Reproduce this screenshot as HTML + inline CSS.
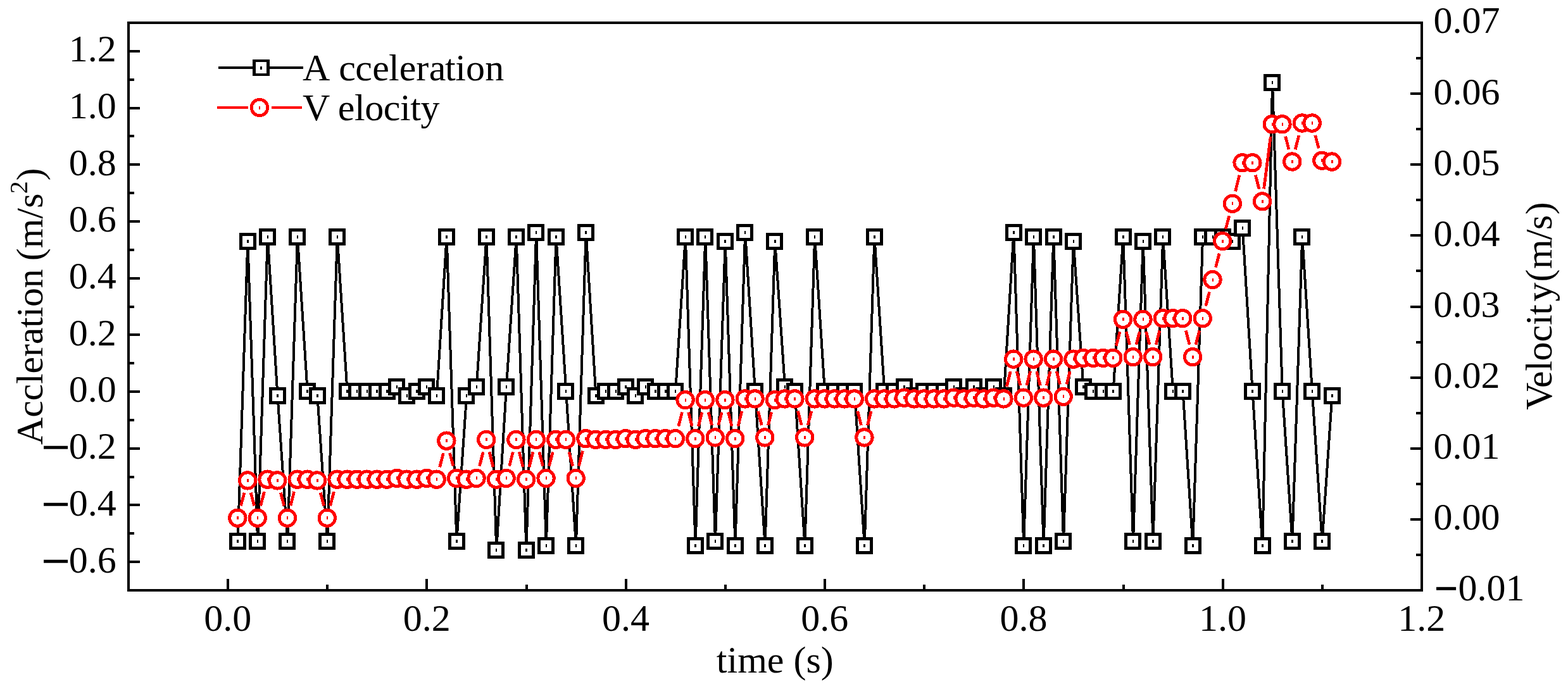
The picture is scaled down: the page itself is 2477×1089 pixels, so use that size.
<!DOCTYPE html>
<html lang="en"><head><meta charset="utf-8"><title>Acceleration and Velocity vs time</title>
<style>html,body{margin:0;padding:0;background:#fff;}svg{display:block;}text{font-family:"Liberation Serif","Times New Roman",serif;font-size:60px;fill:#000;}</style></head><body>
<svg width="2477" height="1089" viewBox="0 0 2477 1089">
<rect x="0" y="0" width="2477" height="1089" fill="#fff"/>
<g shape-rendering="crispEdges">
<polyline fill="none" stroke="#000" stroke-width="4" stroke-linejoin="bevel" points="375.64,855.63 391.35,381.27 407.07,855.63 422.79,374.29 438.5,625.43 454.22,855.63 469.93,374.29 485.65,618.45 501.36,625.43 517.08,855.63 532.79,374.29 548.51,618.45 564.22,618.45 579.94,618.45 595.65,618.45 611.37,618.45 627.09,611.47 642.8,625.43 658.52,618.45 674.23,611.47 689.95,625.43 705.66,374.29 721.38,855.63 737.09,625.43 752.81,611.47 768.52,374.29 784.24,869.59 799.95,611.47 815.67,374.29 831.39,869.59 847.1,367.31 862.82,862.61 878.53,374.29 894.25,618.45 909.96,862.61 925.68,367.31 941.39,625.43 957.11,618.45 972.82,618.45 988.54,611.47 1004.25,625.43 1019.97,611.47 1035.69,618.45 1051.4,618.45 1067.12,618.45 1082.83,374.29 1098.55,862.61 1114.26,374.29 1129.98,855.63 1145.69,381.27 1161.41,862.61 1177.12,367.31 1192.84,618.45 1208.55,862.61 1224.27,381.27 1239.99,611.47 1255.7,618.45 1271.42,862.61 1287.13,374.29 1302.85,618.45 1318.56,618.45 1334.28,618.45 1349.99,618.45 1365.71,862.61 1381.42,374.29 1397.14,618.45 1412.85,618.45 1428.57,611.47 1444.29,625.43 1460,618.45 1475.72,618.45 1491.43,618.45 1507.15,611.47 1522.86,625.43 1538.58,611.47 1554.29,625.43 1570.01,611.47 1585.72,625.43 1601.44,367.31 1617.15,862.61 1632.87,374.29 1648.59,862.61 1664.3,374.29 1680.02,855.63 1695.73,381.27 1711.45,611.47 1727.16,618.45 1742.88,618.45 1758.59,618.45 1774.31,374.29 1790.02,855.63 1805.74,381.27 1821.45,855.63 1837.17,374.29 1852.89,618.45 1868.6,618.45 1884.32,862.61 1900.03,374.29 1915.75,374.29 1931.46,374.29 1947.18,381.27 1962.89,360.34 1978.61,618.45 1994.32,862.61 2010.04,130.13 2025.75,618.45 2041.47,855.63 2057.19,374.29 2072.9,618.45 2088.62,855.63 2104.33,625.43"/>
<path d="M362 842h27v27h-27z" fill="#000"/><path d="M367 847h17v17h-17z" fill="#fff"/><path d="M374.42 853h2.45v5h-2.45z" fill="#000"/>
<path d="M378 368h27v27h-27z" fill="#000"/><path d="M383 373h17v17h-17z" fill="#fff"/><path d="M390.13 379h2.45v5h-2.45z" fill="#000"/>
<path d="M393 842h27v27h-27z" fill="#000"/><path d="M398 847h17v17h-17z" fill="#fff"/><path d="M405.85 853h2.45v5h-2.45z" fill="#000"/>
<path d="M409 361h27v27h-27z" fill="#000"/><path d="M414 366h17v17h-17z" fill="#fff"/><path d="M421.57 372h2.45v5h-2.45z" fill="#000"/>
<path d="M425 612h27v27h-27z" fill="#000"/><path d="M430 617h17v17h-17z" fill="#fff"/><path d="M437.28 623h2.45v5h-2.45z" fill="#000"/>
<path d="M440 842h27v27h-27z" fill="#000"/><path d="M445 847h17v17h-17z" fill="#fff"/><path d="M453 853h2.45v5h-2.45z" fill="#000"/>
<path d="M456 361h27v27h-27z" fill="#000"/><path d="M461 366h17v17h-17z" fill="#fff"/><path d="M468.71 372h2.45v5h-2.45z" fill="#000"/>
<path d="M472 605h27v27h-27z" fill="#000"/><path d="M477 610h17v17h-17z" fill="#fff"/><path d="M484.43 616h2.45v5h-2.45z" fill="#000"/>
<path d="M488 612h27v27h-27z" fill="#000"/><path d="M493 617h17v17h-17z" fill="#fff"/><path d="M500.14 623h2.45v5h-2.45z" fill="#000"/>
<path d="M503 842h27v27h-27z" fill="#000"/><path d="M508 847h17v17h-17z" fill="#fff"/><path d="M515.86 853h2.45v5h-2.45z" fill="#000"/>
<path d="M519 361h27v27h-27z" fill="#000"/><path d="M524 366h17v17h-17z" fill="#fff"/><path d="M531.57 372h2.45v5h-2.45z" fill="#000"/>
<path d="M535 605h27v27h-27z" fill="#000"/><path d="M540 610h17v17h-17z" fill="#fff"/><path d="M547.29 616h2.45v5h-2.45z" fill="#000"/>
<path d="M550 605h27v27h-27z" fill="#000"/><path d="M555 610h17v17h-17z" fill="#fff"/><path d="M563 616h2.45v5h-2.45z" fill="#000"/>
<path d="M566 605h27v27h-27z" fill="#000"/><path d="M571 610h17v17h-17z" fill="#fff"/><path d="M578.72 616h2.45v5h-2.45z" fill="#000"/>
<path d="M582 605h27v27h-27z" fill="#000"/><path d="M587 610h17v17h-17z" fill="#fff"/><path d="M594.43 616h2.45v5h-2.45z" fill="#000"/>
<path d="M598 605h27v27h-27z" fill="#000"/><path d="M603 610h17v17h-17z" fill="#fff"/><path d="M610.15 616h2.45v5h-2.45z" fill="#000"/>
<path d="M613 598h27v27h-27z" fill="#000"/><path d="M618 603h17v17h-17z" fill="#fff"/><path d="M625.87 609h2.45v5h-2.45z" fill="#000"/>
<path d="M629 612h27v27h-27z" fill="#000"/><path d="M634 617h17v17h-17z" fill="#fff"/><path d="M641.58 623h2.45v5h-2.45z" fill="#000"/>
<path d="M645 605h27v27h-27z" fill="#000"/><path d="M650 610h17v17h-17z" fill="#fff"/><path d="M657.3 616h2.45v5h-2.45z" fill="#000"/>
<path d="M660 598h27v27h-27z" fill="#000"/><path d="M665 603h17v17h-17z" fill="#fff"/><path d="M673.01 609h2.45v5h-2.45z" fill="#000"/>
<path d="M676 612h27v27h-27z" fill="#000"/><path d="M681 617h17v17h-17z" fill="#fff"/><path d="M688.73 623h2.45v5h-2.45z" fill="#000"/>
<path d="M692 361h27v27h-27z" fill="#000"/><path d="M697 366h17v17h-17z" fill="#fff"/><path d="M704.44 372h2.45v5h-2.45z" fill="#000"/>
<path d="M708 842h27v27h-27z" fill="#000"/><path d="M713 847h17v17h-17z" fill="#fff"/><path d="M720.16 853h2.45v5h-2.45z" fill="#000"/>
<path d="M723 612h27v27h-27z" fill="#000"/><path d="M728 617h17v17h-17z" fill="#fff"/><path d="M735.87 623h2.45v5h-2.45z" fill="#000"/>
<path d="M739 598h27v27h-27z" fill="#000"/><path d="M744 603h17v17h-17z" fill="#fff"/><path d="M751.59 609h2.45v5h-2.45z" fill="#000"/>
<path d="M755 361h27v27h-27z" fill="#000"/><path d="M760 366h17v17h-17z" fill="#fff"/><path d="M767.3 372h2.45v5h-2.45z" fill="#000"/>
<path d="M770 856h27v27h-27z" fill="#000"/><path d="M775 861h17v17h-17z" fill="#fff"/><path d="M783.02 867h2.45v5h-2.45z" fill="#000"/>
<path d="M786 598h27v27h-27z" fill="#000"/><path d="M791 603h17v17h-17z" fill="#fff"/><path d="M798.73 609h2.45v5h-2.45z" fill="#000"/>
<path d="M802 361h27v27h-27z" fill="#000"/><path d="M807 366h17v17h-17z" fill="#fff"/><path d="M814.45 372h2.45v5h-2.45z" fill="#000"/>
<path d="M818 856h27v27h-27z" fill="#000"/><path d="M823 861h17v17h-17z" fill="#fff"/><path d="M830.17 867h2.45v5h-2.45z" fill="#000"/>
<path d="M833 354h27v27h-27z" fill="#000"/><path d="M838 359h17v17h-17z" fill="#fff"/><path d="M845.88 365h2.45v5h-2.45z" fill="#000"/>
<path d="M849 849h27v27h-27z" fill="#000"/><path d="M854 854h17v17h-17z" fill="#fff"/><path d="M861.6 860h2.45v5h-2.45z" fill="#000"/>
<path d="M865 361h27v27h-27z" fill="#000"/><path d="M870 366h17v17h-17z" fill="#fff"/><path d="M877.31 372h2.45v5h-2.45z" fill="#000"/>
<path d="M880 605h27v27h-27z" fill="#000"/><path d="M885 610h17v17h-17z" fill="#fff"/><path d="M893.03 616h2.45v5h-2.45z" fill="#000"/>
<path d="M896 849h27v27h-27z" fill="#000"/><path d="M901 854h17v17h-17z" fill="#fff"/><path d="M908.74 860h2.45v5h-2.45z" fill="#000"/>
<path d="M912 354h27v27h-27z" fill="#000"/><path d="M917 359h17v17h-17z" fill="#fff"/><path d="M924.46 365h2.45v5h-2.45z" fill="#000"/>
<path d="M928 612h27v27h-27z" fill="#000"/><path d="M933 617h17v17h-17z" fill="#fff"/><path d="M940.17 623h2.45v5h-2.45z" fill="#000"/>
<path d="M943 605h27v27h-27z" fill="#000"/><path d="M948 610h17v17h-17z" fill="#fff"/><path d="M955.89 616h2.45v5h-2.45z" fill="#000"/>
<path d="M959 605h27v27h-27z" fill="#000"/><path d="M964 610h17v17h-17z" fill="#fff"/><path d="M971.6 616h2.45v5h-2.45z" fill="#000"/>
<path d="M975 598h27v27h-27z" fill="#000"/><path d="M980 603h17v17h-17z" fill="#fff"/><path d="M987.32 609h2.45v5h-2.45z" fill="#000"/>
<path d="M990 612h27v27h-27z" fill="#000"/><path d="M995 617h17v17h-17z" fill="#fff"/><path d="M1003.03 623h2.45v5h-2.45z" fill="#000"/>
<path d="M1006 598h27v27h-27z" fill="#000"/><path d="M1011 603h17v17h-17z" fill="#fff"/><path d="M1018.75 609h2.45v5h-2.45z" fill="#000"/>
<path d="M1022 605h27v27h-27z" fill="#000"/><path d="M1027 610h17v17h-17z" fill="#fff"/><path d="M1034.47 616h2.45v5h-2.45z" fill="#000"/>
<path d="M1038 605h27v27h-27z" fill="#000"/><path d="M1043 610h17v17h-17z" fill="#fff"/><path d="M1050.18 616h2.45v5h-2.45z" fill="#000"/>
<path d="M1053 605h27v27h-27z" fill="#000"/><path d="M1058 610h17v17h-17z" fill="#fff"/><path d="M1065.9 616h2.45v5h-2.45z" fill="#000"/>
<path d="M1069 361h27v27h-27z" fill="#000"/><path d="M1074 366h17v17h-17z" fill="#fff"/><path d="M1081.61 372h2.45v5h-2.45z" fill="#000"/>
<path d="M1085 849h27v27h-27z" fill="#000"/><path d="M1090 854h17v17h-17z" fill="#fff"/><path d="M1097.33 860h2.45v5h-2.45z" fill="#000"/>
<path d="M1100 361h27v27h-27z" fill="#000"/><path d="M1105 366h17v17h-17z" fill="#fff"/><path d="M1113.04 372h2.45v5h-2.45z" fill="#000"/>
<path d="M1116 842h27v27h-27z" fill="#000"/><path d="M1121 847h17v17h-17z" fill="#fff"/><path d="M1128.76 853h2.45v5h-2.45z" fill="#000"/>
<path d="M1132 368h27v27h-27z" fill="#000"/><path d="M1137 373h17v17h-17z" fill="#fff"/><path d="M1144.47 379h2.45v5h-2.45z" fill="#000"/>
<path d="M1148 849h27v27h-27z" fill="#000"/><path d="M1153 854h17v17h-17z" fill="#fff"/><path d="M1160.19 860h2.45v5h-2.45z" fill="#000"/>
<path d="M1163 354h27v27h-27z" fill="#000"/><path d="M1168 359h17v17h-17z" fill="#fff"/><path d="M1175.9 365h2.45v5h-2.45z" fill="#000"/>
<path d="M1179 605h27v27h-27z" fill="#000"/><path d="M1184 610h17v17h-17z" fill="#fff"/><path d="M1191.62 616h2.45v5h-2.45z" fill="#000"/>
<path d="M1195 849h27v27h-27z" fill="#000"/><path d="M1200 854h17v17h-17z" fill="#fff"/><path d="M1207.33 860h2.45v5h-2.45z" fill="#000"/>
<path d="M1210 368h27v27h-27z" fill="#000"/><path d="M1215 373h17v17h-17z" fill="#fff"/><path d="M1223.05 379h2.45v5h-2.45z" fill="#000"/>
<path d="M1226 598h27v27h-27z" fill="#000"/><path d="M1231 603h17v17h-17z" fill="#fff"/><path d="M1238.77 609h2.45v5h-2.45z" fill="#000"/>
<path d="M1242 605h27v27h-27z" fill="#000"/><path d="M1247 610h17v17h-17z" fill="#fff"/><path d="M1254.48 616h2.45v5h-2.45z" fill="#000"/>
<path d="M1258 849h27v27h-27z" fill="#000"/><path d="M1263 854h17v17h-17z" fill="#fff"/><path d="M1270.2 860h2.45v5h-2.45z" fill="#000"/>
<path d="M1273 361h27v27h-27z" fill="#000"/><path d="M1278 366h17v17h-17z" fill="#fff"/><path d="M1285.91 372h2.45v5h-2.45z" fill="#000"/>
<path d="M1289 605h27v27h-27z" fill="#000"/><path d="M1294 610h17v17h-17z" fill="#fff"/><path d="M1301.63 616h2.45v5h-2.45z" fill="#000"/>
<path d="M1305 605h27v27h-27z" fill="#000"/><path d="M1310 610h17v17h-17z" fill="#fff"/><path d="M1317.34 616h2.45v5h-2.45z" fill="#000"/>
<path d="M1321 605h27v27h-27z" fill="#000"/><path d="M1326 610h17v17h-17z" fill="#fff"/><path d="M1333.06 616h2.45v5h-2.45z" fill="#000"/>
<path d="M1336 605h27v27h-27z" fill="#000"/><path d="M1341 610h17v17h-17z" fill="#fff"/><path d="M1348.77 616h2.45v5h-2.45z" fill="#000"/>
<path d="M1352 849h27v27h-27z" fill="#000"/><path d="M1357 854h17v17h-17z" fill="#fff"/><path d="M1364.49 860h2.45v5h-2.45z" fill="#000"/>
<path d="M1368 361h27v27h-27z" fill="#000"/><path d="M1373 366h17v17h-17z" fill="#fff"/><path d="M1380.2 372h2.45v5h-2.45z" fill="#000"/>
<path d="M1383 605h27v27h-27z" fill="#000"/><path d="M1388 610h17v17h-17z" fill="#fff"/><path d="M1395.92 616h2.45v5h-2.45z" fill="#000"/>
<path d="M1399 605h27v27h-27z" fill="#000"/><path d="M1404 610h17v17h-17z" fill="#fff"/><path d="M1411.63 616h2.45v5h-2.45z" fill="#000"/>
<path d="M1415 598h27v27h-27z" fill="#000"/><path d="M1420 603h17v17h-17z" fill="#fff"/><path d="M1427.35 609h2.45v5h-2.45z" fill="#000"/>
<path d="M1431 612h27v27h-27z" fill="#000"/><path d="M1436 617h17v17h-17z" fill="#fff"/><path d="M1443.07 623h2.45v5h-2.45z" fill="#000"/>
<path d="M1446 605h27v27h-27z" fill="#000"/><path d="M1451 610h17v17h-17z" fill="#fff"/><path d="M1458.78 616h2.45v5h-2.45z" fill="#000"/>
<path d="M1462 605h27v27h-27z" fill="#000"/><path d="M1467 610h17v17h-17z" fill="#fff"/><path d="M1474.5 616h2.45v5h-2.45z" fill="#000"/>
<path d="M1478 605h27v27h-27z" fill="#000"/><path d="M1483 610h17v17h-17z" fill="#fff"/><path d="M1490.21 616h2.45v5h-2.45z" fill="#000"/>
<path d="M1493 598h27v27h-27z" fill="#000"/><path d="M1498 603h17v17h-17z" fill="#fff"/><path d="M1505.93 609h2.45v5h-2.45z" fill="#000"/>
<path d="M1509 612h27v27h-27z" fill="#000"/><path d="M1514 617h17v17h-17z" fill="#fff"/><path d="M1521.64 623h2.45v5h-2.45z" fill="#000"/>
<path d="M1525 598h27v27h-27z" fill="#000"/><path d="M1530 603h17v17h-17z" fill="#fff"/><path d="M1537.36 609h2.45v5h-2.45z" fill="#000"/>
<path d="M1541 612h27v27h-27z" fill="#000"/><path d="M1546 617h17v17h-17z" fill="#fff"/><path d="M1553.07 623h2.45v5h-2.45z" fill="#000"/>
<path d="M1556 598h27v27h-27z" fill="#000"/><path d="M1561 603h17v17h-17z" fill="#fff"/><path d="M1568.79 609h2.45v5h-2.45z" fill="#000"/>
<path d="M1572 612h27v27h-27z" fill="#000"/><path d="M1577 617h17v17h-17z" fill="#fff"/><path d="M1584.5 623h2.45v5h-2.45z" fill="#000"/>
<path d="M1588 354h27v27h-27z" fill="#000"/><path d="M1593 359h17v17h-17z" fill="#fff"/><path d="M1600.22 365h2.45v5h-2.45z" fill="#000"/>
<path d="M1603 849h27v27h-27z" fill="#000"/><path d="M1608 854h17v17h-17z" fill="#fff"/><path d="M1615.93 860h2.45v5h-2.45z" fill="#000"/>
<path d="M1619 361h27v27h-27z" fill="#000"/><path d="M1624 366h17v17h-17z" fill="#fff"/><path d="M1631.65 372h2.45v5h-2.45z" fill="#000"/>
<path d="M1635 849h27v27h-27z" fill="#000"/><path d="M1640 854h17v17h-17z" fill="#fff"/><path d="M1647.37 860h2.45v5h-2.45z" fill="#000"/>
<path d="M1651 361h27v27h-27z" fill="#000"/><path d="M1656 366h17v17h-17z" fill="#fff"/><path d="M1663.08 372h2.45v5h-2.45z" fill="#000"/>
<path d="M1666 842h27v27h-27z" fill="#000"/><path d="M1671 847h17v17h-17z" fill="#fff"/><path d="M1678.8 853h2.45v5h-2.45z" fill="#000"/>
<path d="M1682 368h27v27h-27z" fill="#000"/><path d="M1687 373h17v17h-17z" fill="#fff"/><path d="M1694.51 379h2.45v5h-2.45z" fill="#000"/>
<path d="M1698 598h27v27h-27z" fill="#000"/><path d="M1703 603h17v17h-17z" fill="#fff"/><path d="M1710.23 609h2.45v5h-2.45z" fill="#000"/>
<path d="M1713 605h27v27h-27z" fill="#000"/><path d="M1718 610h17v17h-17z" fill="#fff"/><path d="M1725.94 616h2.45v5h-2.45z" fill="#000"/>
<path d="M1729 605h27v27h-27z" fill="#000"/><path d="M1734 610h17v17h-17z" fill="#fff"/><path d="M1741.66 616h2.45v5h-2.45z" fill="#000"/>
<path d="M1745 605h27v27h-27z" fill="#000"/><path d="M1750 610h17v17h-17z" fill="#fff"/><path d="M1757.37 616h2.45v5h-2.45z" fill="#000"/>
<path d="M1761 361h27v27h-27z" fill="#000"/><path d="M1766 366h17v17h-17z" fill="#fff"/><path d="M1773.09 372h2.45v5h-2.45z" fill="#000"/>
<path d="M1776 842h27v27h-27z" fill="#000"/><path d="M1781 847h17v17h-17z" fill="#fff"/><path d="M1788.8 853h2.45v5h-2.45z" fill="#000"/>
<path d="M1792 368h27v27h-27z" fill="#000"/><path d="M1797 373h17v17h-17z" fill="#fff"/><path d="M1804.52 379h2.45v5h-2.45z" fill="#000"/>
<path d="M1808 842h27v27h-27z" fill="#000"/><path d="M1813 847h17v17h-17z" fill="#fff"/><path d="M1820.23 853h2.45v5h-2.45z" fill="#000"/>
<path d="M1823 361h27v27h-27z" fill="#000"/><path d="M1828 366h17v17h-17z" fill="#fff"/><path d="M1835.95 372h2.45v5h-2.45z" fill="#000"/>
<path d="M1839 605h27v27h-27z" fill="#000"/><path d="M1844 610h17v17h-17z" fill="#fff"/><path d="M1851.67 616h2.45v5h-2.45z" fill="#000"/>
<path d="M1855 605h27v27h-27z" fill="#000"/><path d="M1860 610h17v17h-17z" fill="#fff"/><path d="M1867.38 616h2.45v5h-2.45z" fill="#000"/>
<path d="M1871 849h27v27h-27z" fill="#000"/><path d="M1876 854h17v17h-17z" fill="#fff"/><path d="M1883.1 860h2.45v5h-2.45z" fill="#000"/>
<path d="M1886 361h27v27h-27z" fill="#000"/><path d="M1891 366h17v17h-17z" fill="#fff"/><path d="M1898.81 372h2.45v5h-2.45z" fill="#000"/>
<path d="M1902 361h27v27h-27z" fill="#000"/><path d="M1907 366h17v17h-17z" fill="#fff"/><path d="M1914.53 372h2.45v5h-2.45z" fill="#000"/>
<path d="M1918 361h27v27h-27z" fill="#000"/><path d="M1923 366h17v17h-17z" fill="#fff"/><path d="M1930.24 372h2.45v5h-2.45z" fill="#000"/>
<path d="M1933 368h27v27h-27z" fill="#000"/><path d="M1938 373h17v17h-17z" fill="#fff"/><path d="M1945.96 379h2.45v5h-2.45z" fill="#000"/>
<path d="M1949 347h27v27h-27z" fill="#000"/><path d="M1954 352h17v17h-17z" fill="#fff"/><path d="M1961.67 358h2.45v5h-2.45z" fill="#000"/>
<path d="M1965 605h27v27h-27z" fill="#000"/><path d="M1970 610h17v17h-17z" fill="#fff"/><path d="M1977.39 616h2.45v5h-2.45z" fill="#000"/>
<path d="M1981 849h27v27h-27z" fill="#000"/><path d="M1986 854h17v17h-17z" fill="#fff"/><path d="M1993.1 860h2.45v5h-2.45z" fill="#000"/>
<path d="M1996 117h27v27h-27z" fill="#000"/><path d="M2001 122h17v17h-17z" fill="#fff"/><path d="M2008.82 128h2.45v5h-2.45z" fill="#000"/>
<path d="M2012 605h27v27h-27z" fill="#000"/><path d="M2017 610h17v17h-17z" fill="#fff"/><path d="M2024.53 616h2.45v5h-2.45z" fill="#000"/>
<path d="M2028 842h27v27h-27z" fill="#000"/><path d="M2033 847h17v17h-17z" fill="#fff"/><path d="M2040.25 853h2.45v5h-2.45z" fill="#000"/>
<path d="M2043 361h27v27h-27z" fill="#000"/><path d="M2048 366h17v17h-17z" fill="#fff"/><path d="M2055.97 372h2.45v5h-2.45z" fill="#000"/>
<path d="M2059 605h27v27h-27z" fill="#000"/><path d="M2064 610h17v17h-17z" fill="#fff"/><path d="M2071.68 616h2.45v5h-2.45z" fill="#000"/>
<path d="M2075 842h27v27h-27z" fill="#000"/><path d="M2080 847h17v17h-17z" fill="#fff"/><path d="M2087.4 853h2.45v5h-2.45z" fill="#000"/>
<path d="M2091 612h27v27h-27z" fill="#000"/><path d="M2096 617h17v17h-17z" fill="#fff"/><path d="M2103.11 623h2.45v5h-2.45z" fill="#000"/>
<path fill="none" stroke="#f00" stroke-width="4.7" d="M380.49 799.37L385.96 778.75M396.21 778.75L401.67 799.37M411.79 799.33L417.53 777.05M443.36 778.75L448.82 799.37M458.93 799.33L464.67 777.05M506.22 778.75L511.68 799.37M521.8 799.33L527.54 777.05M694.66 738.31L700.4 716.02M710.52 715.99L715.98 736.6M757.53 736.57L763.27 714.28M773.11 714.31L779.11 738.28M804.67 736.57L810.41 714.28M820.26 714.31L826.26 738.28M835.97 738.28L841.97 714.31M851.82 714.28L857.56 736.57M867.53 736.57L873.27 714.28M898.96 714.28L904.7 736.57M914.55 736.53L920.55 712.57M1071.83 673.8L1077.57 651.51M1087.55 651.51L1093.29 673.8M1103.26 673.8L1109 651.51M1119.12 651.48L1124.58 672.09M1134.83 672.09L1140.3 651.48M1150.41 651.51L1156.15 673.8M1166 673.77L1172 649.8M1197.56 649.77L1203.3 672.06M1213.41 672.09L1218.87 651.48M1260.42 649.77L1266.16 672.06M1276.13 672.06L1281.87 649.77M1354.71 649.77L1360.45 672.06M1370.43 672.06L1376.17 649.77M1590.31 611L1596.31 587.04M1606.16 587L1611.9 609.29M1621.87 609.29L1627.61 587M1637.59 587L1643.33 609.29M1653.3 609.29L1659.04 587M1669.16 586.97L1674.62 607.58M1684.87 607.58L1690.34 586.97M1763.31 546.52L1769.05 524.24M1779.16 524.2L1784.63 544.82M1794.88 544.82L1800.34 524.2M1810.59 524.2L1816.06 544.82M1826.17 544.78L1831.91 522.49M1873.32 522.49L1879.06 544.78M1889.03 544.78L1894.77 522.49M1904.75 483.76L1910.49 461.47M1920.46 422.74L1926.2 400.45M1936.32 361.75L1941.78 341.13M1951.64 302.37L1957.89 276.72M1983.33 276.66L1989.07 298.95M1996.61 298.48L2007.21 216.11M2030.61 215.6L2036.07 236.22M2046.19 236.18L2051.93 213.9M2077.76 213.86L2083.22 234.47"/>
<g fill="#fff" stroke="#f00" stroke-width="5">
<circle cx="375.37" cy="818.7" r="12.7"/><rect x="374.42" y="816.2" width="2.45" height="5" fill="#f00" stroke="none"/>
<circle cx="391.08" cy="759.42" r="12.7"/><rect x="390.13" y="756.92" width="2.45" height="5" fill="#f00" stroke="none"/>
<circle cx="406.8" cy="818.7" r="12.7"/><rect x="405.85" y="816.2" width="2.45" height="5" fill="#f00" stroke="none"/>
<circle cx="422.52" cy="757.68" r="12.7"/><rect x="421.57" y="755.18" width="2.45" height="5" fill="#f00" stroke="none"/>
<circle cx="438.23" cy="759.42" r="12.7"/><rect x="437.28" y="756.92" width="2.45" height="5" fill="#f00" stroke="none"/>
<circle cx="453.95" cy="818.7" r="12.7"/><rect x="453" y="816.2" width="2.45" height="5" fill="#f00" stroke="none"/>
<circle cx="469.66" cy="757.68" r="12.7"/><rect x="468.71" y="755.18" width="2.45" height="5" fill="#f00" stroke="none"/>
<circle cx="485.38" cy="757.68" r="12.7"/><rect x="484.43" y="755.18" width="2.45" height="5" fill="#f00" stroke="none"/>
<circle cx="501.09" cy="759.42" r="12.7"/><rect x="500.14" y="756.92" width="2.45" height="5" fill="#f00" stroke="none"/>
<circle cx="516.81" cy="818.7" r="12.7"/><rect x="515.86" y="816.2" width="2.45" height="5" fill="#f00" stroke="none"/>
<circle cx="532.52" cy="757.68" r="12.7"/><rect x="531.57" y="755.18" width="2.45" height="5" fill="#f00" stroke="none"/>
<circle cx="548.24" cy="757.68" r="12.7"/><rect x="547.29" y="755.18" width="2.45" height="5" fill="#f00" stroke="none"/>
<circle cx="563.95" cy="757.68" r="12.7"/><rect x="563" y="755.18" width="2.45" height="5" fill="#f00" stroke="none"/>
<circle cx="579.67" cy="757.68" r="12.7"/><rect x="578.72" y="755.18" width="2.45" height="5" fill="#f00" stroke="none"/>
<circle cx="595.38" cy="757.68" r="12.7"/><rect x="594.43" y="755.18" width="2.45" height="5" fill="#f00" stroke="none"/>
<circle cx="611.1" cy="757.68" r="12.7"/><rect x="610.15" y="755.18" width="2.45" height="5" fill="#f00" stroke="none"/>
<circle cx="626.82" cy="755.93" r="12.7"/><rect x="625.87" y="753.43" width="2.45" height="5" fill="#f00" stroke="none"/>
<circle cx="642.53" cy="757.68" r="12.7"/><rect x="641.58" y="755.18" width="2.45" height="5" fill="#f00" stroke="none"/>
<circle cx="658.25" cy="757.68" r="12.7"/><rect x="657.3" y="755.18" width="2.45" height="5" fill="#f00" stroke="none"/>
<circle cx="673.96" cy="755.93" r="12.7"/><rect x="673.01" y="753.43" width="2.45" height="5" fill="#f00" stroke="none"/>
<circle cx="689.68" cy="757.68" r="12.7"/><rect x="688.73" y="755.18" width="2.45" height="5" fill="#f00" stroke="none"/>
<circle cx="705.39" cy="696.66" r="12.7"/><rect x="704.44" y="694.16" width="2.45" height="5" fill="#f00" stroke="none"/>
<circle cx="721.11" cy="755.93" r="12.7"/><rect x="720.16" y="753.43" width="2.45" height="5" fill="#f00" stroke="none"/>
<circle cx="736.82" cy="757.68" r="12.7"/><rect x="735.87" y="755.18" width="2.45" height="5" fill="#f00" stroke="none"/>
<circle cx="752.54" cy="755.93" r="12.7"/><rect x="751.59" y="753.43" width="2.45" height="5" fill="#f00" stroke="none"/>
<circle cx="768.25" cy="694.91" r="12.7"/><rect x="767.3" y="692.41" width="2.45" height="5" fill="#f00" stroke="none"/>
<circle cx="783.97" cy="757.68" r="12.7"/><rect x="783.02" y="755.18" width="2.45" height="5" fill="#f00" stroke="none"/>
<circle cx="799.68" cy="755.93" r="12.7"/><rect x="798.73" y="753.43" width="2.45" height="5" fill="#f00" stroke="none"/>
<circle cx="815.4" cy="694.91" r="12.7"/><rect x="814.45" y="692.41" width="2.45" height="5" fill="#f00" stroke="none"/>
<circle cx="831.12" cy="757.68" r="12.7"/><rect x="830.17" y="755.18" width="2.45" height="5" fill="#f00" stroke="none"/>
<circle cx="846.83" cy="694.91" r="12.7"/><rect x="845.88" y="692.41" width="2.45" height="5" fill="#f00" stroke="none"/>
<circle cx="862.55" cy="755.93" r="12.7"/><rect x="861.6" y="753.43" width="2.45" height="5" fill="#f00" stroke="none"/>
<circle cx="878.26" cy="694.91" r="12.7"/><rect x="877.31" y="692.41" width="2.45" height="5" fill="#f00" stroke="none"/>
<circle cx="893.98" cy="694.91" r="12.7"/><rect x="893.03" y="692.41" width="2.45" height="5" fill="#f00" stroke="none"/>
<circle cx="909.69" cy="755.93" r="12.7"/><rect x="908.74" y="753.43" width="2.45" height="5" fill="#f00" stroke="none"/>
<circle cx="925.41" cy="693.17" r="12.7"/><rect x="924.46" y="690.67" width="2.45" height="5" fill="#f00" stroke="none"/>
<circle cx="941.12" cy="694.91" r="12.7"/><rect x="940.17" y="692.41" width="2.45" height="5" fill="#f00" stroke="none"/>
<circle cx="956.84" cy="694.91" r="12.7"/><rect x="955.89" y="692.41" width="2.45" height="5" fill="#f00" stroke="none"/>
<circle cx="972.55" cy="694.91" r="12.7"/><rect x="971.6" y="692.41" width="2.45" height="5" fill="#f00" stroke="none"/>
<circle cx="988.27" cy="693.17" r="12.7"/><rect x="987.32" y="690.67" width="2.45" height="5" fill="#f00" stroke="none"/>
<circle cx="1003.98" cy="694.91" r="12.7"/><rect x="1003.03" y="692.41" width="2.45" height="5" fill="#f00" stroke="none"/>
<circle cx="1019.7" cy="693.17" r="12.7"/><rect x="1018.75" y="690.67" width="2.45" height="5" fill="#f00" stroke="none"/>
<circle cx="1035.42" cy="693.17" r="12.7"/><rect x="1034.47" y="690.67" width="2.45" height="5" fill="#f00" stroke="none"/>
<circle cx="1051.13" cy="693.17" r="12.7"/><rect x="1050.18" y="690.67" width="2.45" height="5" fill="#f00" stroke="none"/>
<circle cx="1066.85" cy="693.17" r="12.7"/><rect x="1065.9" y="690.67" width="2.45" height="5" fill="#f00" stroke="none"/>
<circle cx="1082.56" cy="632.15" r="12.7"/><rect x="1081.61" y="629.65" width="2.45" height="5" fill="#f00" stroke="none"/>
<circle cx="1098.28" cy="693.17" r="12.7"/><rect x="1097.33" y="690.67" width="2.45" height="5" fill="#f00" stroke="none"/>
<circle cx="1113.99" cy="632.15" r="12.7"/><rect x="1113.04" y="629.65" width="2.45" height="5" fill="#f00" stroke="none"/>
<circle cx="1129.71" cy="691.42" r="12.7"/><rect x="1128.76" y="688.92" width="2.45" height="5" fill="#f00" stroke="none"/>
<circle cx="1145.42" cy="632.15" r="12.7"/><rect x="1144.47" y="629.65" width="2.45" height="5" fill="#f00" stroke="none"/>
<circle cx="1161.14" cy="693.17" r="12.7"/><rect x="1160.19" y="690.67" width="2.45" height="5" fill="#f00" stroke="none"/>
<circle cx="1176.85" cy="630.4" r="12.7"/><rect x="1175.9" y="627.9" width="2.45" height="5" fill="#f00" stroke="none"/>
<circle cx="1192.57" cy="630.4" r="12.7"/><rect x="1191.62" y="627.9" width="2.45" height="5" fill="#f00" stroke="none"/>
<circle cx="1208.28" cy="691.42" r="12.7"/><rect x="1207.33" y="688.92" width="2.45" height="5" fill="#f00" stroke="none"/>
<circle cx="1224" cy="632.15" r="12.7"/><rect x="1223.05" y="629.65" width="2.45" height="5" fill="#f00" stroke="none"/>
<circle cx="1239.72" cy="630.4" r="12.7"/><rect x="1238.77" y="627.9" width="2.45" height="5" fill="#f00" stroke="none"/>
<circle cx="1255.43" cy="630.4" r="12.7"/><rect x="1254.48" y="627.9" width="2.45" height="5" fill="#f00" stroke="none"/>
<circle cx="1271.15" cy="691.42" r="12.7"/><rect x="1270.2" y="688.92" width="2.45" height="5" fill="#f00" stroke="none"/>
<circle cx="1286.86" cy="630.4" r="12.7"/><rect x="1285.91" y="627.9" width="2.45" height="5" fill="#f00" stroke="none"/>
<circle cx="1302.58" cy="630.4" r="12.7"/><rect x="1301.63" y="627.9" width="2.45" height="5" fill="#f00" stroke="none"/>
<circle cx="1318.29" cy="630.4" r="12.7"/><rect x="1317.34" y="627.9" width="2.45" height="5" fill="#f00" stroke="none"/>
<circle cx="1334.01" cy="630.4" r="12.7"/><rect x="1333.06" y="627.9" width="2.45" height="5" fill="#f00" stroke="none"/>
<circle cx="1349.72" cy="630.4" r="12.7"/><rect x="1348.77" y="627.9" width="2.45" height="5" fill="#f00" stroke="none"/>
<circle cx="1365.44" cy="691.42" r="12.7"/><rect x="1364.49" y="688.92" width="2.45" height="5" fill="#f00" stroke="none"/>
<circle cx="1381.15" cy="630.4" r="12.7"/><rect x="1380.2" y="627.9" width="2.45" height="5" fill="#f00" stroke="none"/>
<circle cx="1396.87" cy="630.4" r="12.7"/><rect x="1395.92" y="627.9" width="2.45" height="5" fill="#f00" stroke="none"/>
<circle cx="1412.58" cy="630.4" r="12.7"/><rect x="1411.63" y="627.9" width="2.45" height="5" fill="#f00" stroke="none"/>
<circle cx="1428.3" cy="628.66" r="12.7"/><rect x="1427.35" y="626.16" width="2.45" height="5" fill="#f00" stroke="none"/>
<circle cx="1444.02" cy="630.4" r="12.7"/><rect x="1443.07" y="627.9" width="2.45" height="5" fill="#f00" stroke="none"/>
<circle cx="1459.73" cy="630.4" r="12.7"/><rect x="1458.78" y="627.9" width="2.45" height="5" fill="#f00" stroke="none"/>
<circle cx="1475.45" cy="630.4" r="12.7"/><rect x="1474.5" y="627.9" width="2.45" height="5" fill="#f00" stroke="none"/>
<circle cx="1491.16" cy="630.4" r="12.7"/><rect x="1490.21" y="627.9" width="2.45" height="5" fill="#f00" stroke="none"/>
<circle cx="1506.88" cy="628.66" r="12.7"/><rect x="1505.93" y="626.16" width="2.45" height="5" fill="#f00" stroke="none"/>
<circle cx="1522.59" cy="630.4" r="12.7"/><rect x="1521.64" y="627.9" width="2.45" height="5" fill="#f00" stroke="none"/>
<circle cx="1538.31" cy="628.66" r="12.7"/><rect x="1537.36" y="626.16" width="2.45" height="5" fill="#f00" stroke="none"/>
<circle cx="1554.02" cy="630.4" r="12.7"/><rect x="1553.07" y="627.9" width="2.45" height="5" fill="#f00" stroke="none"/>
<circle cx="1569.74" cy="628.66" r="12.7"/><rect x="1568.79" y="626.16" width="2.45" height="5" fill="#f00" stroke="none"/>
<circle cx="1585.45" cy="630.4" r="12.7"/><rect x="1584.5" y="627.9" width="2.45" height="5" fill="#f00" stroke="none"/>
<circle cx="1601.17" cy="567.64" r="12.7"/><rect x="1600.22" y="565.14" width="2.45" height="5" fill="#f00" stroke="none"/>
<circle cx="1616.88" cy="628.66" r="12.7"/><rect x="1615.93" y="626.16" width="2.45" height="5" fill="#f00" stroke="none"/>
<circle cx="1632.6" cy="567.64" r="12.7"/><rect x="1631.65" y="565.14" width="2.45" height="5" fill="#f00" stroke="none"/>
<circle cx="1648.32" cy="628.66" r="12.7"/><rect x="1647.37" y="626.16" width="2.45" height="5" fill="#f00" stroke="none"/>
<circle cx="1664.03" cy="567.64" r="12.7"/><rect x="1663.08" y="565.14" width="2.45" height="5" fill="#f00" stroke="none"/>
<circle cx="1679.75" cy="626.92" r="12.7"/><rect x="1678.8" y="624.42" width="2.45" height="5" fill="#f00" stroke="none"/>
<circle cx="1695.46" cy="567.64" r="12.7"/><rect x="1694.51" y="565.14" width="2.45" height="5" fill="#f00" stroke="none"/>
<circle cx="1711.18" cy="565.89" r="12.7"/><rect x="1710.23" y="563.39" width="2.45" height="5" fill="#f00" stroke="none"/>
<circle cx="1726.89" cy="565.89" r="12.7"/><rect x="1725.94" y="563.39" width="2.45" height="5" fill="#f00" stroke="none"/>
<circle cx="1742.61" cy="565.89" r="12.7"/><rect x="1741.66" y="563.39" width="2.45" height="5" fill="#f00" stroke="none"/>
<circle cx="1758.32" cy="565.89" r="12.7"/><rect x="1757.37" y="563.39" width="2.45" height="5" fill="#f00" stroke="none"/>
<circle cx="1774.04" cy="504.87" r="12.7"/><rect x="1773.09" y="502.37" width="2.45" height="5" fill="#f00" stroke="none"/>
<circle cx="1789.75" cy="564.15" r="12.7"/><rect x="1788.8" y="561.65" width="2.45" height="5" fill="#f00" stroke="none"/>
<circle cx="1805.47" cy="504.87" r="12.7"/><rect x="1804.52" y="502.37" width="2.45" height="5" fill="#f00" stroke="none"/>
<circle cx="1821.18" cy="564.15" r="12.7"/><rect x="1820.23" y="561.65" width="2.45" height="5" fill="#f00" stroke="none"/>
<circle cx="1836.9" cy="503.13" r="12.7"/><rect x="1835.95" y="500.63" width="2.45" height="5" fill="#f00" stroke="none"/>
<circle cx="1852.62" cy="503.13" r="12.7"/><rect x="1851.67" y="500.63" width="2.45" height="5" fill="#f00" stroke="none"/>
<circle cx="1868.33" cy="503.13" r="12.7"/><rect x="1867.38" y="500.63" width="2.45" height="5" fill="#f00" stroke="none"/>
<circle cx="1884.05" cy="564.15" r="12.7"/><rect x="1883.1" y="561.65" width="2.45" height="5" fill="#f00" stroke="none"/>
<circle cx="1899.76" cy="503.13" r="12.7"/><rect x="1898.81" y="500.63" width="2.45" height="5" fill="#f00" stroke="none"/>
<circle cx="1915.48" cy="442.1" r="12.7"/><rect x="1914.53" y="439.6" width="2.45" height="5" fill="#f00" stroke="none"/>
<circle cx="1931.19" cy="381.08" r="12.7"/><rect x="1930.24" y="378.58" width="2.45" height="5" fill="#f00" stroke="none"/>
<circle cx="1946.91" cy="321.8" r="12.7"/><rect x="1945.96" y="319.3" width="2.45" height="5" fill="#f00" stroke="none"/>
<circle cx="1962.62" cy="257.29" r="12.7"/><rect x="1961.67" y="254.79" width="2.45" height="5" fill="#f00" stroke="none"/>
<circle cx="1978.34" cy="257.29" r="12.7"/><rect x="1977.39" y="254.79" width="2.45" height="5" fill="#f00" stroke="none"/>
<circle cx="1994.05" cy="318.32" r="12.7"/><rect x="1993.1" y="315.82" width="2.45" height="5" fill="#f00" stroke="none"/>
<circle cx="2009.77" cy="196.27" r="12.7"/><rect x="2008.82" y="193.77" width="2.45" height="5" fill="#f00" stroke="none"/>
<circle cx="2025.48" cy="196.27" r="12.7"/><rect x="2024.53" y="193.77" width="2.45" height="5" fill="#f00" stroke="none"/>
<circle cx="2041.2" cy="255.55" r="12.7"/><rect x="2040.25" y="253.05" width="2.45" height="5" fill="#f00" stroke="none"/>
<circle cx="2056.92" cy="194.53" r="12.7"/><rect x="2055.97" y="192.03" width="2.45" height="5" fill="#f00" stroke="none"/>
<circle cx="2072.63" cy="194.53" r="12.7"/><rect x="2071.68" y="192.03" width="2.45" height="5" fill="#f00" stroke="none"/>
<circle cx="2088.35" cy="253.81" r="12.7"/><rect x="2087.4" y="251.31" width="2.45" height="5" fill="#f00" stroke="none"/>
<circle cx="2104.06" cy="255.55" r="12.7"/><rect x="2103.11" y="253.05" width="2.45" height="5" fill="#f00" stroke="none"/>
</g>
<rect x="345" y="105" width="134" height="4" fill="#000"/>
<path d="M399 94h27v26h-27z" fill="#000"/><path d="M404 98h17v18h-17z" fill="#fff"/>
<rect x="411" y="105" width="3" height="5" fill="#000"/>
<rect x="343" y="168" width="49" height="4" fill="#f00"/>
<rect x="429" y="168" width="48" height="4" fill="#f00"/>
<circle cx="410" cy="170" r="12.7" fill="#fff" stroke="#f00" stroke-width="5"/>
<rect x="409" y="168" width="2" height="5" fill="#f00"/>
<rect x="203" y="36" width="2043" height="897" fill="none" stroke="#000" stroke-width="4"/>
<g fill="#000"><rect x="205" y="886.15" width="16" height="4"/><rect x="205" y="841.3" width="7" height="4"/><rect x="205" y="796.45" width="16" height="4"/><rect x="205" y="751.6" width="7" height="4"/><rect x="205" y="706.75" width="16" height="4"/><rect x="205" y="661.9" width="7" height="4"/><rect x="205" y="617.05" width="16" height="4"/><rect x="205" y="572.2" width="7" height="4"/><rect x="205" y="527.35" width="16" height="4"/><rect x="205" y="482.5" width="7" height="4"/><rect x="205" y="437.65" width="16" height="4"/><rect x="205" y="392.8" width="7" height="4"/><rect x="205" y="347.95" width="16" height="4"/><rect x="205" y="303.1" width="7" height="4"/><rect x="205" y="258.25" width="16" height="4"/><rect x="205" y="213.4" width="7" height="4"/><rect x="205" y="168.55" width="16" height="4"/><rect x="205" y="123.7" width="7" height="4"/><rect x="205" y="78.85" width="16" height="4"/><rect x="358.15" y="915" width="4" height="16"/><rect x="515.31" y="924" width="4" height="7"/><rect x="672.46" y="915" width="4" height="16"/><rect x="829.62" y="924" width="4" height="7"/><rect x="986.77" y="915" width="4" height="16"/><rect x="1143.92" y="924" width="4" height="7"/><rect x="1301.08" y="915" width="4" height="16"/><rect x="1458.23" y="924" width="4" height="7"/><rect x="1615.38" y="915" width="4" height="16"/><rect x="1772.54" y="924" width="4" height="7"/><rect x="1929.69" y="915" width="4" height="16"/><rect x="2086.85" y="924" width="4" height="7"/><rect x="2244" y="915" width="4" height="16"/><rect x="2237" y="874.94" width="7" height="4"/><rect x="2228" y="818.88" width="16" height="4"/><rect x="2237" y="762.81" width="7" height="4"/><rect x="2228" y="706.75" width="16" height="4"/><rect x="2237" y="650.69" width="7" height="4"/><rect x="2228" y="594.62" width="16" height="4"/><rect x="2237" y="538.56" width="7" height="4"/><rect x="2228" y="482.5" width="16" height="4"/><rect x="2237" y="426.44" width="7" height="4"/><rect x="2228" y="370.38" width="16" height="4"/><rect x="2237" y="314.31" width="7" height="4"/><rect x="2228" y="258.25" width="16" height="4"/><rect x="2237" y="202.19" width="7" height="4"/><rect x="2228" y="146.12" width="16" height="4"/><rect x="2237" y="90.06" width="7" height="4"/></g>
</g>
<text y="904.55"><tspan x="64.7" dy="6.25" font-weight="bold" font-size="72" textLength="46.66" lengthAdjust="spacingAndGlyphs">−</tspan><tspan x="108.7" dy="-6.25">0.6</tspan></text>
<text y="814.85"><tspan x="64.7" dy="6.25" font-weight="bold" font-size="72" textLength="46.66" lengthAdjust="spacingAndGlyphs">−</tspan><tspan x="108.7" dy="-6.25">0.4</tspan></text>
<text y="725.15"><tspan x="64.7" dy="6.25" font-weight="bold" font-size="72" textLength="46.66" lengthAdjust="spacingAndGlyphs">−</tspan><tspan x="108.7" dy="-6.25">0.2</tspan></text>
<text x="108.7" y="635.45">0.0</text>
<text x="108.7" y="545.75">0.2</text>
<text x="108.7" y="456.05">0.4</text>
<text x="108.7" y="366.35">0.6</text>
<text x="108.7" y="276.65">0.8</text>
<text x="108.7" y="186.95">1.0</text>
<text x="108.7" y="97.25">1.2</text>
<text x="359.85" y="997" text-anchor="middle">0.0</text>
<text x="674.16" y="997" text-anchor="middle">0.2</text>
<text x="988.47" y="997" text-anchor="middle">0.4</text>
<text x="1302.78" y="997" text-anchor="middle">0.6</text>
<text x="1617.08" y="997" text-anchor="middle">0.8</text>
<text x="1931.39" y="997" text-anchor="middle">1.0</text>
<text x="2245.7" y="997" text-anchor="middle">1.2</text>
<text y="949.4"><tspan x="2265.4" dy="4.3" font-weight="bold" font-size="72" textLength="38.09" lengthAdjust="spacingAndGlyphs">−</tspan><tspan x="2303.4" dy="-4.3">0.01</tspan></text>
<text x="2264.6" y="837.27">0.00</text>
<text x="2264.6" y="725.15">0.01</text>
<text x="2264.6" y="613.02">0.02</text>
<text x="2264.6" y="500.9">0.03</text>
<text x="2264.6" y="388.77">0.04</text>
<text x="2264.6" y="276.65">0.05</text>
<text x="2264.6" y="164.53">0.06</text>
<text x="2264.6" y="52.4">0.07</text>
<text x="1131.8" y="1063.4">time (s)</text>
<text transform="translate(67,703) rotate(-90)"><tspan letter-spacing="-0.2">Accleration</tspan><tspan dx="-2"> (m/s</tspan><tspan font-size="40" dy="-23.8" dx="-0.6">2</tspan><tspan dy="23.8" dx="0.9">)</tspan></text>
<text transform="translate(2450.5,648) rotate(-90)" dx="0 -1.7 -0.3 -0.4 0 -0.2 -0.5 4.75 0.95 0.45 -0.9 -0.7 0.75">Velocity(m/s)</text>
<text x="478" y="126.8" dx="0 0 2.2 -0.6 0.3 -0.8 0 0 0.3 -1.2 -0.4 0 0.2">A cceleration</text>
<text x="478" y="189.8">V <tspan dx="-1.5" letter-spacing="-0.4">elocity</tspan></text>
</svg></body></html>
